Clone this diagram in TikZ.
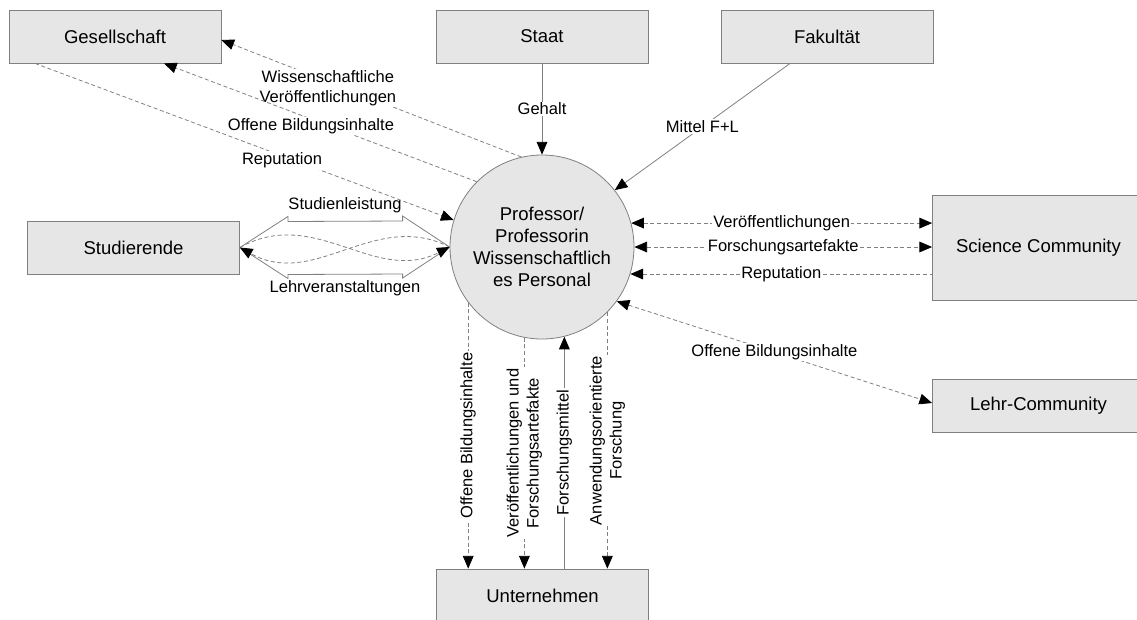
\documentclass[tikz,border=0pt]{standalone}
\usepackage{fontspec}
\setmainfont{Liberation Sans}
\usetikzlibrary{arrows.meta,calc}
\definecolor{boxfill}{HTML}{E6E6E6}
\definecolor{linegray}{HTML}{808080}
\begin{document}
\begin{tikzpicture}[x=0.75pt,y=-0.75pt,
  >={Triangle[color=black,length=9.5pt,width=8pt]},
  box/.style={draw=linegray, fill=boxfill, line width=0.6pt,
    minimum width=159pt, minimum height=39.75pt, inner sep=0pt,
    font=\fontsize{13.9}{16.5}\selectfont},
  flow/.style={draw=linegray, line width=0.6pt},
  dflow/.style={flow, dash pattern=on 3pt off 2pt},
  lbl/.style={fill=white, inner sep=1pt, align=center,
    font=\fontsize{12.4}{15}\selectfont},
]
\useasboundingbox (0,0) rectangle (1137,619);

% actors
\node[box] (ges)   at (115,36.5)    {Gesellschaft};
\node[box] (staat) at (542,36.5)    {Staat};
\node[box] (fak)   at (827,36.5)    {Fakultät};
\node[box] (stud)  at (133.5,247.5) {Studierende};
\node[box, minimum height=78.75pt] (sci) at (1038.5,247.5) {Science Community};
\node[box] (lehr)  at (1038.5,405.5) {Lehr-Community};
\node[box] (unt)   at (542.5,595.5) {Unternehmen};

% central process
\node[circle, draw=linegray, fill=boxfill, line width=0.6pt, minimum size=138pt,
  inner sep=0pt, align=center, font=\fontsize{13.9}{16.5}\selectfont]
  (prof) at (542,247) {Professor/\\Professorin\\Wissenschaftlich\\es Personal};

% Gesellschaft
\draw[dflow,->] (prof.103.7) -- node[lbl,pos=0.645,yshift=-5pt] (lwv) {Wissenschaftliche\\Veröffentlichungen} ($(ges.east)+(0,3.5)$);
\draw[dflow,->] (prof.135.9) -- node[lbl,pos=0.53,yshift=-5.5pt] (lob) {Offene Bildungsinhalte} ($(ges.south)+(49,0)$);
\draw[dflow,->] ($(ges.south)+(-80,0)$) -- node[lbl,pos=0.59,yshift=-3.5pt] (lrg) {Reputation} (prof.163.3);

% Staat, Fakultaet
\draw[flow,->] (staat.south) -- node[lbl] (lgh) {Gehalt} (prof.north);
\draw[flow,->] ($(fak.south)+(-37,0)$) -- node[lbl] (lmf) {Mittel F+L} (prof.38.5);

% Science Community, Lehr-Community
\draw[dflow,<->] (prof.15.8) -- node[lbl] (lsv) {Veröffentlichungen} (prof.15.8 -| sci.west);
\draw[dflow,<->] (prof.0) -- node[lbl] (lsf) {Forschungsartefakte} (prof.0 -| sci.west);
\draw[dflow,<-] (prof.-17.1) -- node[lbl] (lsr) {Reputation} (prof.-17.1 -| sci.west);
\draw[dflow,<->] (prof.-36.4) -- node[lbl] (llo) {Offene Bildungsinhalte} ($(lehr.west)+(0,-2.5)$);

% Unternehmen
\draw[dflow,->] (prof.-143.5) -- node[lbl,rotate=90] (luo) {Offene Bildungsinhalte} (prof.-143.5 |- unt.north);
\draw[dflow,->] (prof.-101.9) -- node[lbl,rotate=90] (luv) {Veröffentlichungen und\\Forschungsartefakte} (prof.-101.9 |- unt.north);
\draw[flow,<-] (prof.-76.8) -- node[lbl,rotate=90] (luf) {Forschungsmittel} (prof.-76.8 |- unt.north);
\draw[dflow,->] (prof.-45.9) -- node[lbl,rotate=90] (lua) {Anwendungsorientierte\\Forschung} (prof.-45.9 |- unt.north);

% Studierende: hollow double arrow with crossing flows
\draw[flow] (stud.east) -- ($(stud.east)+(48,-31)$) -- ++(0,5)
  -- ($(prof.west)+(-47,-26)$) -- ++(0,-5) -- (prof.west);
\draw[flow] (stud.east) -- ($(stud.east)+(48,31)$) -- ++(0,-4)
  -- ($(prof.west)+(-47,27)$) -- ++(0,4) -- (prof.west);
\draw[dflow,->] (stud.east) .. controls ($(stud.east)+(75,-42)$) and ($(prof.west)+(-75,38)$) .. (prof.west);
\draw[dflow,->] (prof.west) .. controls ($(prof.west)+(-75,-38)$) and ($(stud.east)+(75,42)$) .. (stud.east);
\node[lbl, fill=none] (lsl) at (345,205) {Studienleistung};
\node[lbl, fill=none] (llv) at (345,288) {Lehrveranstaltungen};
\end{tikzpicture}
\end{document}
